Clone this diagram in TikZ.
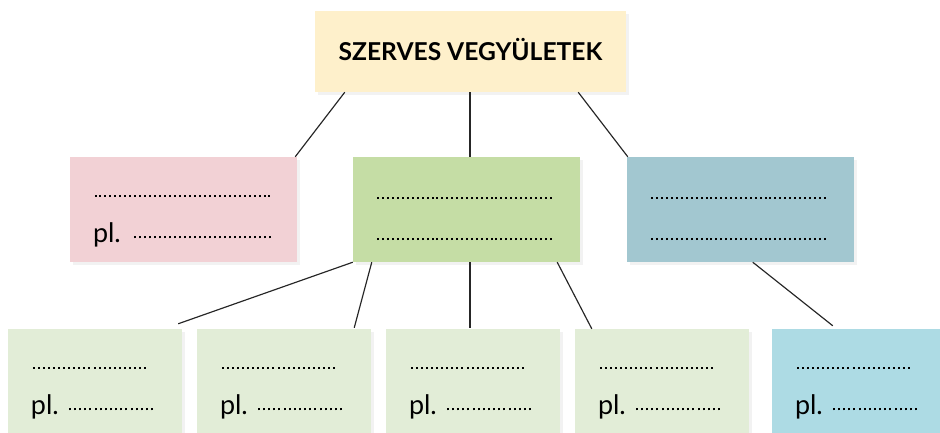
\documentclass[tikz,border=0pt]{standalone}
\usepackage{fontspec}
\setmainfont{Lato}
\usetikzlibrary{calc,shadows}

\newlength\pxu
\setlength\pxu{0.03cm}
\definecolor{cream}{HTML}{FEF0CB}
\definecolor{rose}{HTML}{F2D1D5}
\definecolor{leaf}{HTML}{C5DDA5}
\definecolor{sea}{HTML}{A2C7D0}
\definecolor{paleleaf}{HTML}{E2EDD7}
\definecolor{palesea}{HTML}{ADDBE4}

\newcommand\dotline[1]{\raisebox{4\pxu}{\hbox to #1\pxu{\xleaders\hbox to 4.9\pxu{\hss\rule{2\pxu}{2\pxu}\hss}\hfill}}}
\newcommand\rowstrut{\rule[-1\pxu]{0pt}{30\pxu}}
\newcommand\plline[2]{\hbox to #1\pxu{pl.\hfill\dotline{#2}}}
\newcommand\smallpair{\rowstrut\dotline{117}\\ \rowstrut\plline{124}{88}}

\begin{document}
\begin{tikzpicture}[x=0.03cm, y=-0.03cm,
  shade/.style={drop shadow={opacity=0.1, shadow xshift=3\pxu, shadow yshift=-3\pxu}},
  title/.style={shade, fill=cream, minimum width=311\pxu, minimum height=81\pxu,
    text height=15pt, text depth=0pt, font=\fontsize{21pt}{25pt}\selectfont\bfseries},
  mid/.style={shade, inner xsep=23\pxu, inner ysep=0pt, text width=181\pxu,
    minimum height=105\pxu, align=left, font=\fontsize{23pt}{35.4pt}\selectfont},
  small/.style={mid, text width=128\pxu},
  link/.style={line width=1pt, black!85}]
\useasboundingbox (0,0) rectangle (940,433);

\node[title] (top) at (470.5,51.5) {SZERVES VEGYÜLETEK};

\node[mid, fill=rose] (pink) at (183.5,209.5) {\rowstrut\dotline{179}\\ \rowstrut\plline{180}{141}};
\node[mid, fill=leaf] (green) at (466.5,209.5) {\rowstrut\dotline{177}\\ \rowstrut\dotline{177}};
\node[mid, fill=sea] (blue) at (740.5,209.5) {\rowstrut\dotline{177}\\ \rowstrut\dotline{177}};

\foreach \x/\n in {95/b1, 284/b2, 473/b3, 662/b4}
  \node[small, fill=paleleaf] (\n) at (\x,381.5) {\smallpair};
\node[small, fill=palesea] (b5) at (859,381.5) {\smallpair};

\draw[link] ($(top.south west)+(30,0)$) -- ($(pink.north east)+(-2,0)$);
\draw[link] ($(top.south)+(-0.5,0)$) -- ($(top.south |- green.north)+(-0.5,0)$);
\draw[link] ($(top.south east)+(-48,0)$) -- ($(blue.north west)+(1,0)$);

\draw[link] (green.south west) -- ($(b1.north east)+(-4,-5)$);
\draw[link] ($(green.south west)+(19,0)$) -- ($(b2.north east)+(-17,-1)$);
\draw[link] ($(green.south)+(3.5,0)$) -- ($(b3.north)+(-3,-1)$);
\draw[link] ($(green.south east)+(-23,0)$) -- ($(b4.north west)+(17,0)$);
\draw[link] ($(blue.south west)+(126,0)$) -- ($(b5.north west)+(61,-3)$);
\end{tikzpicture}
\end{document}
